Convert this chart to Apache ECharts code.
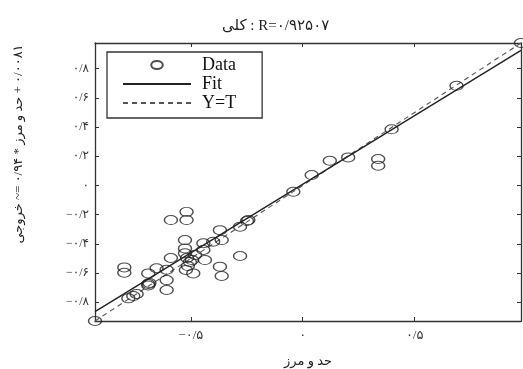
<!DOCTYPE html>
<html>
<head>
<meta charset="utf-8">
<title>Regression</title>
<script src="https://cdn.jsdelivr.net/npm/echarts@6/dist/echarts.min.js"></script>
<style>html,body{margin:0;padding:0;background:#fff;}</style>
</head>
<body>
<div id="main" style="width:523px;height:369px;"></div>
<script>
// axis range (same for both axes, as in the regression plot)
var axisMin = -0.928, axisMax = 0.975;

// targets (حد و مرز) and outputs (خروجی)
var targets = [-0.928, -0.797, -0.797, -0.779, -0.757, -0.742, -0.690, -0.690, -0.685, -0.690,
  -0.653, -0.608, -0.608, -0.608, -0.589, -0.589, -0.519, -0.519, -0.526, -0.526,
  -0.526, -0.517, -0.504, -0.513, -0.495, -0.522, -0.489, -0.481, -0.444, -0.444,
  -0.437, -0.400, -0.370, -0.362, -0.370, -0.362, -0.280, -0.243, -0.249, -0.280,
  -0.042, 0.040, 0.121, 0.203, 0.337, 0.337, 0.397, 0.687, 0.975];
var outputs = [-0.928, -0.561, -0.598, -0.773, -0.757, -0.743, -0.675, -0.685, -0.668, -0.602,
  -0.567, -0.577, -0.648, -0.716, -0.237, -0.497, -0.181, -0.237, -0.374, -0.431,
  -0.465, -0.497, -0.524, -0.552, -0.511, -0.579, -0.602, -0.476, -0.396, -0.442,
  -0.511, -0.385, -0.306, -0.374, -0.556, -0.620, -0.283, -0.237, -0.244, -0.483,
  -0.043, 0.071, 0.169, 0.192, 0.181, 0.135, 0.384, 0.682, 0.975];

// fit: خروجی ~= 0.94 * حد و مرز + 0.0081
var fitSlope = 0.94, fitOffset = 0.0081;

var xTickValues = [-0.5, 0, 0.5];
var xTickLabels = ['−۰/۵', '۰', '۰/۵'];
var yTickValues = [-0.8, -0.6, -0.4, -0.2, 0, 0.2, 0.4, 0.6, 0.8];
var yTickLabels = ['−۰/۸', '−۰/۶', '−۰/۴', '−۰/۲', '۰', '۰/۲', '۰/۴', '۰/۶', '۰/۸'];

var ellipse = 'path://M0,4.5 A6.5,4.5 0 1,1 13,4.5 A6.5,4.5 0 1,1 0,4.5 Z';
var serif = 'Liberation Serif, DejaVu Serif, DejaVu Sans';

function pickLabel(values, labels) {
    return function (v) {
        for (var i = 0; i < values.length; i++) {
            if (Math.abs(values[i] - v) < 1e-6) return labels[i];
        }
        return '';
    };
}

var pts = targets.map(function (t, i) { return [t, outputs[i]]; });
var fitLine = [[axisMin, fitSlope * axisMin + fitOffset], [axisMax, fitSlope * axisMax + fitOffset]];
var idLine = [[axisMin, axisMin], [axisMax, axisMax]];

var axisLine = { show: true, onZero: false, lineStyle: { color: '#333', width: 1.3 } };

function xAx(pos, labels) {
    return {
        type: 'value', min: axisMin, max: axisMax, position: pos,
        axisLine: axisLine,
        axisTick: { show: true, inside: true, length: 4, customValues: xTickValues, lineStyle: { color: '#333' } },
        axisLabel: { show: labels, customValues: xTickValues, formatter: pickLabel(xTickValues, xTickLabels),
            color: '#333', fontSize: 13, margin: 8, fontFamily: serif },
        splitLine: { show: false }
    };
}
function yAx(pos, labels) {
    return {
        type: 'value', min: axisMin, max: axisMax, position: pos,
        axisLine: axisLine,
        axisTick: { show: true, inside: true, length: 4, customValues: yTickValues, lineStyle: { color: '#333' } },
        axisLabel: { show: labels, customValues: yTickValues, formatter: pickLabel(yTickValues, yTickLabels),
            color: '#333', fontSize: 12, margin: 6, fontFamily: serif },
        splitLine: { show: false }
    };
}

var xBottom = xAx('bottom', true);
xBottom.name = 'حد و مرز';
xBottom.nameLocation = 'middle';
xBottom.nameGap = 34;
xBottom.nameTextStyle = { color: '#222', fontSize: 13, fontFamily: serif };

var yLeft = yAx('left', true);
yLeft.name = 'خروجی\u200E ~= ۰/۹۴ * \u200Eحد و مرز\u200E + ۰/۰۰۸۱';
yLeft.nameLocation = 'middle';
yLeft.nameRotate = 90;
yLeft.nameGap = 70;
yLeft.nameTextStyle = { color: '#222', fontSize: 13, fontFamily: serif, padding: [0, 0, 0, 76] };

var hiddenDot = { color: 'rgba(0,0,0,0)', borderColor: 'rgba(0,0,0,0)', borderWidth: 0 };

var myChart = echarts.init(document.getElementById('main'));
myChart.setOption({
    animation: false,
    backgroundColor: '#fff',
    title: {
        text: 'کلی : R=۰/۹۲۵۰۷',
        left: 222, top: 19, padding: 0,
        textStyle: { color: '#222', fontSize: 15, fontWeight: 'normal', fontFamily: serif }
    },
    grid: { left: 95, top: 43, right: 2, bottom: 48, containLabel: false, outerBoundsMode: 'none' },
    xAxis: [xBottom, xAx('top', false)],
    yAxis: [yLeft, yAx('right', false)],
    legend: {
        orient: 'vertical', left: 107, top: 52,
        itemWidth: 68, itemHeight: 8, itemGap: 1,
        padding: [4, 26, 6, 15],
        borderColor: '#333', borderWidth: 1.3, backgroundColor: '#fff',
        textStyle: { color: '#111', fontSize: 18, fontFamily: serif, padding: [0, 0, 0, 6] },
        data: [
            { name: 'Data', icon: ellipse },
            { name: 'Fit', itemStyle: hiddenDot },
            { name: 'Y=T', itemStyle: hiddenDot }
        ]
    },
    series: [
        {
            name: 'Fit', type: 'line', data: fitLine, symbol: 'none', z: 3,
            lineStyle: { color: '#222', width: 1.4 }, itemStyle: { color: '#222' }
        },
        {
            name: 'Y=T', type: 'line', data: idLine, symbol: 'none', z: 2,
            lineStyle: { color: '#555', width: 1.1, type: [5, 4] }, itemStyle: { color: '#555' }
        },
        {
            name: 'Data', type: 'scatter', data: pts, symbol: ellipse, symbolSize: [13, 9], z: 4,
            itemStyle: { color: 'rgba(0,0,0,0)', borderColor: '#222', borderWidth: 1.2 }
        }
    ]
});
</script>
</body>
</html>
